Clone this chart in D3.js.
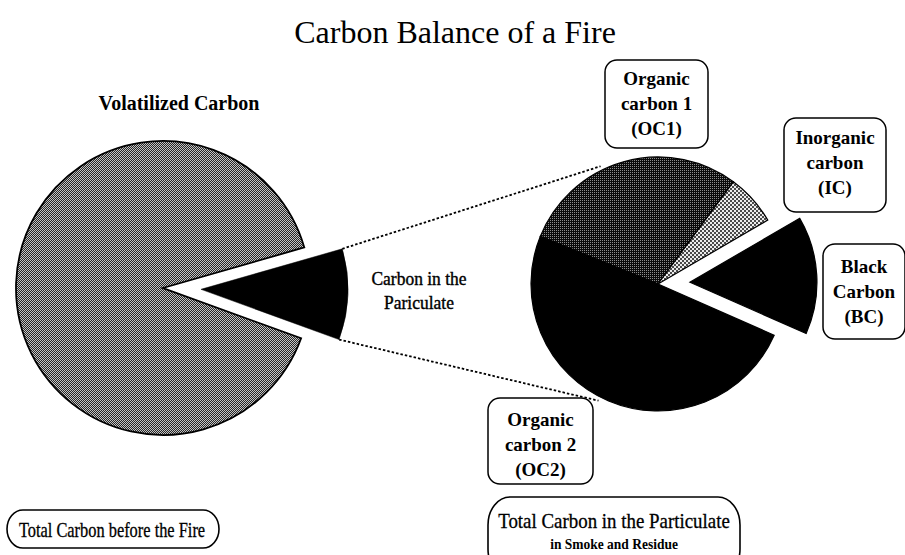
<!DOCTYPE html>
<html>
<head>
<meta charset="utf-8">
<script src="https://cdn.jsdelivr.net/npm/d3@7"></script>
<style>
  body { margin: 0; background: #fff; }
  svg text { font-family: 'Liberation Serif', 'Times New Roman', serif; fill: #000; }
</style>
</head>
<body>
<div id="chart"></div>
<script>
// Data
const leftCategories = ['Carbon in the Particulate', 'Volatilized Carbon'];
const leftValues = [10, 90];
const rightCategories = ['OC1', 'IC', 'BC', 'OC2'];
const rightValues = [29, 6.5, 15, 49.5];
const rightLabels = [
    ['Organic', 'carbon 1', '(OC1)'],
    ['Inorganic', 'carbon', '(IC)'],
    ['Black', 'Carbon', '(BC)'],
    ['Organic', 'carbon 2', '(OC2)']
];

const width = 905, height = 555;
const deg = Math.PI / 180;

const svg = d3.select('#chart')
    .append('svg')
    .attr('width', width)
    .attr('height', height);

// halftone-like fill patterns
const defs = svg.append('defs');
function pattern(id, size, bg, cells, cellSize, color) {
    const p = defs.append('pattern')
        .attr('id', id)
        .attr('patternUnits', 'userSpaceOnUse')
        .attr('width', size)
        .attr('height', size);
    p.append('rect').attr('width', size).attr('height', size).attr('fill', bg);
    cells.forEach(c => {
        p.append('rect')
            .attr('x', c[0]).attr('y', c[1])
            .attr('width', cellSize).attr('height', cellSize)
            .attr('fill', color);
    });
}
pattern('volatile', 2, '#c4c4c4', [[0, 0], [1, 1]], 1, '#262626');
pattern('oc1', 2, '#0a0a0a', [[0, 0]], 1, '#8c8c8c');
pattern('ic', 4, '#ececec', [[0, 0], [2, 2]], 2, '#4a4a4a');

function offset(d, dist) {
    const a = (d.startAngle + d.endAngle) / 2;
    return [Math.sin(a) * dist, -Math.cos(a) * dist];
}

// Left pie
const left = { cx: 163, cy: 288, r: 147, explode: 38 };
const leftPie = d3.pie().sort(null)
    .startAngle(74 * deg)
    .endAngle(74 * deg + 2 * Math.PI);
const leftArcs = leftPie(leftValues);
const leftArc = d3.arc().innerRadius(0).outerRadius(left.r);
const leftFills = ['#000', 'url(#volatile)'];

const gLeft = svg.append('g').attr('transform', `translate(${left.cx},${left.cy})`);
gLeft.selectAll('path')
    .data(leftArcs)
    .enter()
    .append('path')
    .attr('d', leftArc)
    .attr('fill', (d, i) => leftFills[i])
    .attr('stroke', '#000')
    .attr('stroke-width', (d, i) => i === 1 ? 1.8 : 0.5)
    .attr('transform', (d, i) => {
        const o = i === 0 ? offset(d, left.explode) : [0, 0];
        return `translate(${o[0]},${o[1]})`;
    });

// Right pie
const right = { cx: 658, cy: 284, r: 127, explode: 32 };
const rightPie = d3.pie().sort(null)
    .startAngle(-68 * deg)
    .endAngle(-68 * deg + 2 * Math.PI);
const rightArcs = rightPie(rightValues);
const rightArc = d3.arc().innerRadius(0).outerRadius(right.r);
const rightFills = ['url(#oc1)', 'url(#ic)', '#000', '#000'];

const gRight = svg.append('g').attr('transform', `translate(${right.cx},${right.cy})`);
gRight.selectAll('path')
    .data(rightArcs)
    .enter()
    .append('path')
    .attr('d', rightArc)
    .attr('fill', (d, i) => rightFills[i])
    .attr('stroke', '#000')
    .attr('stroke-width', 1.2)
    .attr('transform', (d, i) => {
        const o = rightCategories[i] === 'BC' ? offset(d, right.explode) : [0, 0];
        return `translate(${o[0]},${o[1]})`;
    });

// dotted connectors from the exploded wedge to the right pie
const wedge = leftArcs[0];
const wo = offset(wedge, left.explode);
const connectTo = [-26 * deg, 207 * deg];
[wedge.startAngle, wedge.endAngle].forEach((a, i) => {
    const x1 = left.cx + wo[0] + Math.sin(a) * left.r;
    const y1 = left.cy + wo[1] - Math.cos(a) * left.r;
    const b = connectTo[i];
    const x2 = right.cx + Math.sin(b) * (right.r + 4);
    const y2 = right.cy - Math.cos(b) * (right.r + 4);
    svg.append('line')
        .attr('x1', x1).attr('y1', y1)
        .attr('x2', x2).attr('y2', y2)
        .attr('stroke', '#000')
        .attr('stroke-width', 1.8)
        .attr('stroke-dasharray', '2.5,2');
});

// Title
svg.append('text')
    .attr('x', 455).attr('y', 43)
    .attr('text-anchor', 'middle')
    .style('font-size', '32px')
    .text('Carbon Balance of a Fire');

svg.append('text')
    .attr('x', 179).attr('y', 110)
    .attr('text-anchor', 'middle')
    .style('font-size', '20px')
    .style('font-weight', 'bold')
    .text(leftCategories[1]);

const midLabel = svg.append('text')
    .attr('text-anchor', 'middle')
    .attr('transform', 'translate(419,0) scale(0.92,1)')
    .style('font-size', '19px')
    .style('stroke', '#000')
    .style('stroke-width', 0.4);
midLabel.append('tspan').attr('x', 0).attr('y', 285).text('Carbon in the');
midLabel.append('tspan').attr('x', 0).attr('y', 309).text('Pariculate');

// label boxes for the right pie
const boxes = [
    { x: 605, y: 60, w: 103, h: 88, ty: 85 },
    { x: 784, y: 118, w: 102, h: 94, ty: 144 },
    { x: 823, y: 244, w: 82, h: 95, ty: 273 },
    { x: 488, y: 398, w: 105, h: 86, ty: 426 }
];
boxes.forEach((b, i) => {
    svg.append('rect')
        .attr('x', b.x).attr('y', b.y)
        .attr('width', b.w).attr('height', b.h)
        .attr('rx', 12)
        .attr('fill', '#fff')
        .attr('stroke', '#000')
        .attr('stroke-width', 1.5);
    const t = svg.append('text')
        .attr('text-anchor', 'middle')
        .style('font-size', '19px')
        .style('font-weight', 'bold');
    rightLabels[i].forEach((line, j) => {
        t.append('tspan')
            .attr('x', b.x + b.w / 2)
            .attr('y', b.ty + j * 25)
            .text(line);
    });
});

// bottom captions
svg.append('rect')
    .attr('x', 7).attr('y', 510)
    .attr('width', 212).attr('height', 38)
    .attr('rx', 16).attr('ry', 19)
    .attr('fill', 'none')
    .attr('stroke', '#000')
    .attr('stroke-width', 1.6);
svg.append('text')
    .attr('transform', 'translate(112,537) scale(0.82,1)')
    .attr('text-anchor', 'middle')
    .style('font-size', '20px')
    .style('stroke', '#000')
    .style('stroke-width', 0.3)
    .text('Total Carbon before the Fire');

svg.append('rect')
    .attr('x', 488).attr('y', 497)
    .attr('width', 252).attr('height', 80)
    .attr('rx', 22).attr('ry', 28)
    .attr('fill', 'none')
    .attr('stroke', '#000')
    .attr('stroke-width', 1.6);
svg.append('text')
    .attr('transform', 'translate(614,528) scale(0.9,1)')
    .attr('text-anchor', 'middle')
    .style('font-size', '21px')
    .style('stroke', '#000')
    .style('stroke-width', 0.3)
    .text('Total Carbon in the Particulate');
svg.append('text')
    .attr('transform', 'translate(614,549) scale(0.9,1)')
    .attr('text-anchor', 'middle')
    .style('font-size', '15px')
    .style('font-weight', 'bold')
    .text('in Smoke and Residue');
</script>
</body>
</html>
